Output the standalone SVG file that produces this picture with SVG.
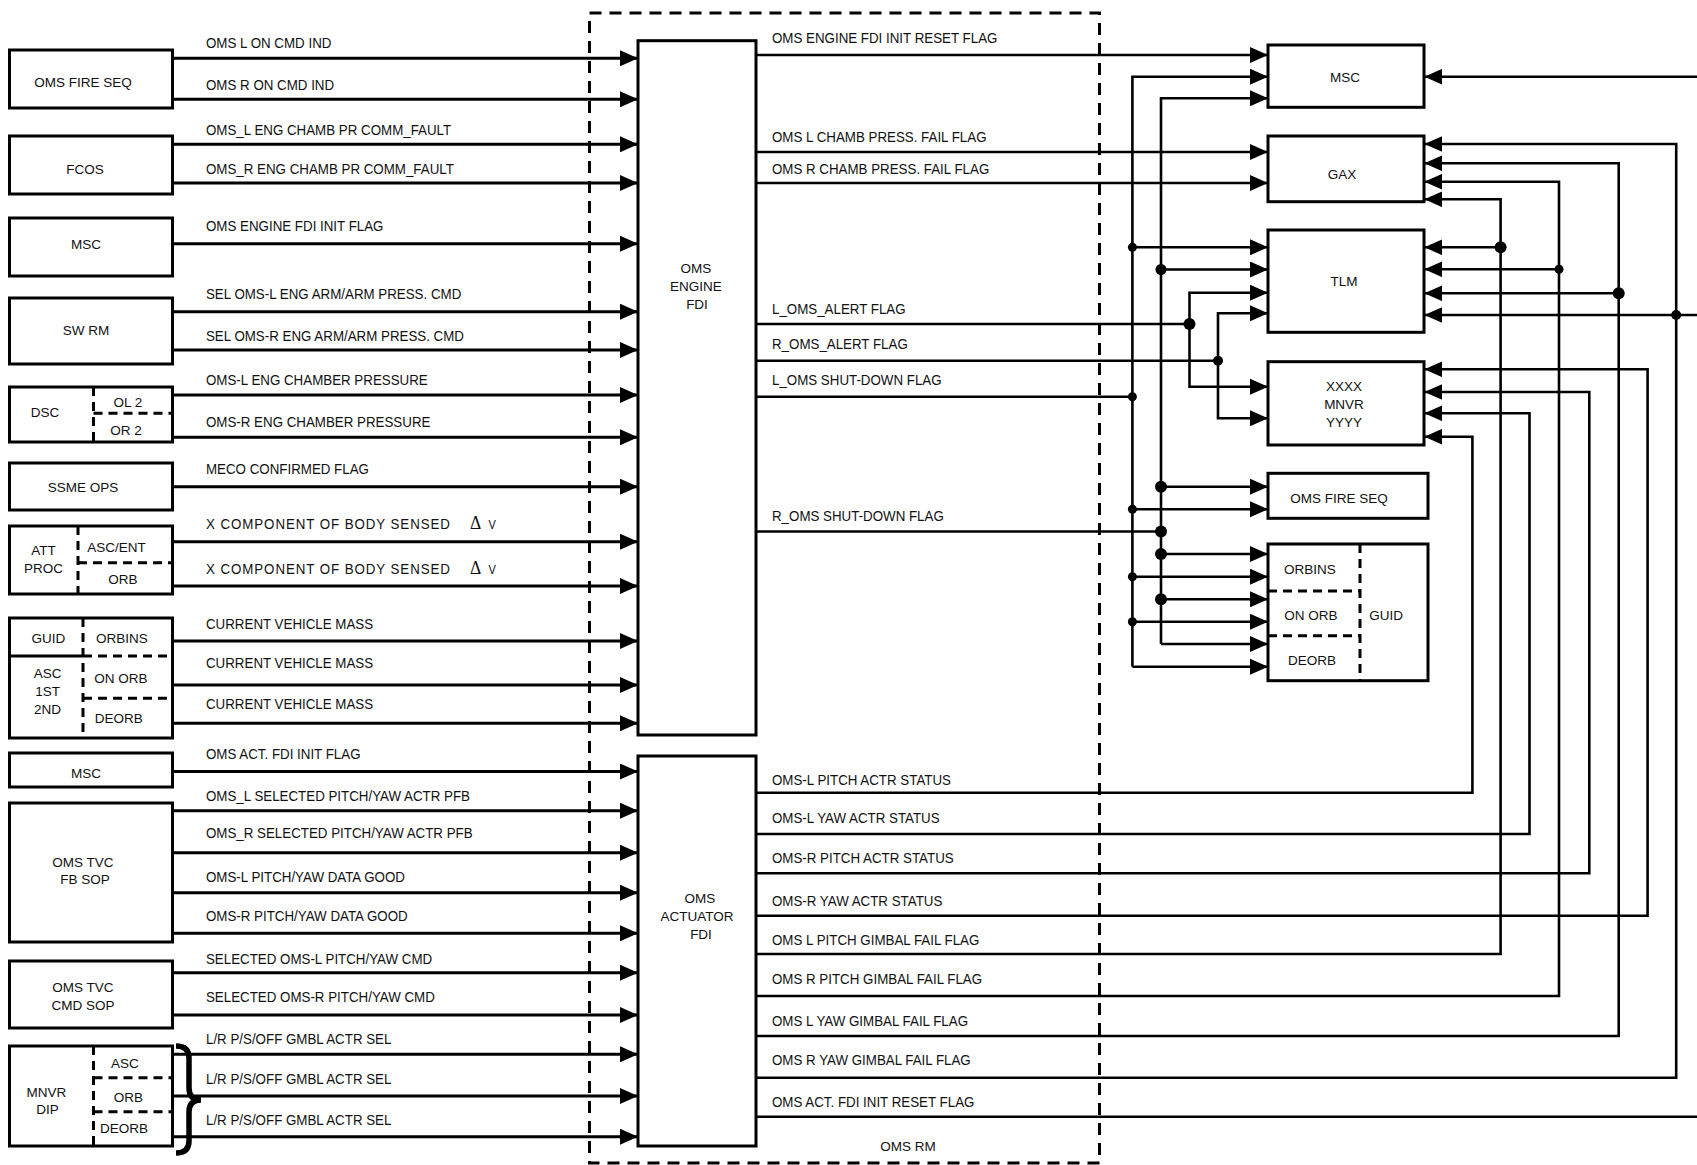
<svg xmlns="http://www.w3.org/2000/svg" width="1697" height="1165" viewBox="0 0 1697 1165">
<style>
.bx{fill:#fff;stroke:#000;stroke-width:3}
.dv{fill:none;stroke:#000;stroke-width:3;stroke-dasharray:9 6}
.sl{fill:none;stroke:#000;stroke-width:3}
.ln{fill:none;stroke:#000;stroke-width:3}
.lr{fill:none;stroke:#000;stroke-width:2.6}
.ar{marker-end:url(#a)}
.t{font-family:"Liberation Sans",Arial,sans-serif;font-size:13.5px;fill:#111}
.L .t{font-size:14.5px}
.m{text-anchor:middle}
.xc{letter-spacing:1px}
</style>
<defs>
<marker id="a" markerUnits="userSpaceOnUse" markerWidth="18" markerHeight="16" refX="18" refY="8" orient="auto" viewBox="0 0 18 16">
<path d="M0,0 L18,8 L0,16 z" fill="#000"/>
</marker>
</defs>
<rect fill="#fff" x="0" y="0" width="1697" height="1165"/>
<g id="oms-rm">
<rect x="589.5" y="13" width="510" height="1150" fill="none" stroke="#000" stroke-width="3" stroke-dasharray="12 8"/>
<text class="t m" x="908" y="1151">OMS RM</text>
</g>
<g id="connectors">
<path class="ln ar" d="M172.5,58.3H638"/>
<path class="ln ar" d="M172.5,99.3H638"/>
<path class="ln ar" d="M172.5,144.3H638"/>
<path class="ln ar" d="M172.5,183H638"/>
<path class="ln ar" d="M172.5,243.7H638"/>
<path class="ln ar" d="M172.5,311.7H638"/>
<path class="ln ar" d="M172.5,350H638"/>
<path class="ln ar" d="M172.5,395H638"/>
<path class="ln ar" d="M172.5,437.3H638"/>
<path class="ln ar" d="M172.5,486.7H638"/>
<path class="ln ar" d="M172.5,541.7H638"/>
<path class="ln ar" d="M172.5,586H638"/>
<path class="ln ar" d="M172.5,641H638"/>
<path class="ln ar" d="M172.5,685H638"/>
<path class="ln ar" d="M172.5,723.3H638"/>
<path class="ln ar" d="M172.5,771.5H638"/>
<path class="ln ar" d="M172.5,810.7H638"/>
<path class="ln ar" d="M172.5,852.7H638"/>
<path class="ln ar" d="M172.5,892.7H638"/>
<path class="ln ar" d="M172.5,933.3H638"/>
<path class="ln ar" d="M172.5,972.7H638"/>
<path class="ln ar" d="M172.5,1015H638"/>
<path class="ln ar" d="M172.5,1054.3H638"/>
<path class="ln ar" d="M172.5,1096H638"/>
<path class="ln ar" d="M172.5,1136.7H638"/>
<path d="M176,1046 Q189,1046 189,1058 V1088 Q189,1100 201,1100 Q189,1100 189,1112 V1141 Q189,1153 176,1153" fill="none" stroke="#000" stroke-width="5.5"/>
<path class="lr ar" d="M756,55H1268"/>
<path class="lr ar" d="M756,152H1268"/>
<path class="lr ar" d="M756,183H1268"/>
<path class="lr" d="M756,324H1189.5"/>
<path class="lr" d="M756,360.7H1218"/>
<path class="lr" d="M756,396.7H1132.4"/>
<path class="lr" d="M756,531.5H1161"/>
<path class="lr ar" d="M1132.4,666.7V76.7H1268"/>
<path class="lr ar" d="M1132.4,666.7H1268"/>
<path class="lr ar" d="M1132.4,247.3H1268"/>
<path class="lr ar" d="M1132.4,509.3H1268"/>
<path class="lr ar" d="M1132.4,576.7H1268"/>
<path class="lr ar" d="M1132.4,621.7H1268"/>
<path class="lr ar" d="M1161,644V98.3H1268"/>
<path class="lr ar" d="M1161,644H1268"/>
<path class="lr ar" d="M1161,269.5H1268"/>
<path class="lr ar" d="M1161,486.7H1268"/>
<path class="lr ar" d="M1161,554H1268"/>
<path class="lr ar" d="M1161,599.3H1268"/>
<path class="lr ar" d="M1189.5,324V292.7H1268"/>
<path class="lr ar" d="M1189.5,324V386.7H1268"/>
<path class="lr ar" d="M1218,360.7V313.3H1268"/>
<path class="lr ar" d="M1218,360.7V418.3H1268"/>
<path class="lr ar" d="M1697,76.7H1424.4"/>
<path class="lr ar" d="M756,1077.7H1676.2V144H1424.4"/>
<path class="lr ar" d="M1697,315H1424.4"/>
<path class="lr ar" d="M756,1036H1618.7V163.3H1424.4"/>
<path class="lr ar" d="M1618.7,293.3H1424.4"/>
<path class="lr ar" d="M756,996H1559V181.7H1424.4"/>
<path class="lr ar" d="M1559,269.3H1424.4"/>
<path class="lr ar" d="M756,954H1500.6V199.3H1424.4"/>
<path class="lr ar" d="M1500.6,247.3H1424.4"/>
<path class="lr ar" d="M756,915.7H1647.6V369.3H1424.4"/>
<path class="lr ar" d="M756,873.3H1589.3V392H1424.4"/>
<path class="lr ar" d="M756,834H1529.5V413.3H1424.4"/>
<path class="lr ar" d="M756,792.7H1472.4V436.7H1424.4"/>
<path class="lr" d="M756,1116.7H1697"/>
<g fill="#000">
<circle cx="1132.4" cy="247.3" r="4.5"/>
<circle cx="1132.4" cy="396.7" r="4.5"/>
<circle cx="1132.4" cy="509.3" r="4.5"/>
<circle cx="1132.4" cy="576.7" r="4.5"/>
<circle cx="1132.4" cy="621.7" r="4.5"/>
<circle cx="1161" cy="269.5" r="5.5"/>
<circle cx="1161" cy="486.7" r="6"/>
<circle cx="1161" cy="531.5" r="6"/>
<circle cx="1161" cy="554" r="6"/>
<circle cx="1161" cy="599.3" r="6"/>
<circle cx="1189.5" cy="324" r="6"/>
<circle cx="1218" cy="360.7" r="5"/>
<circle cx="1500.6" cy="247.3" r="6"/>
<circle cx="1559" cy="269.3" r="4.5"/>
<circle cx="1618.7" cy="293.3" r="6"/>
<circle cx="1676.2" cy="315" r="5"/>
</g>
</g>
<g id="labels" class="L" transform="scale(0.92 1)">
<text class="t" x="223.9" y="48">OMS L ON CMD IND</text>
<text class="t" x="223.9" y="90.3">OMS R ON CMD IND</text>
<text class="t" x="223.9" y="134.6">OMS_L ENG CHAMB PR COMM_FAULT</text>
<text class="t" x="223.9" y="174.3">OMS_R ENG CHAMB PR COMM_FAULT</text>
<text class="t" x="223.9" y="231.3">OMS ENGINE FDI INIT FLAG</text>
<text class="t" x="223.9" y="299.3">SEL OMS-L ENG ARM/ARM PRESS. CMD</text>
<text class="t" x="223.9" y="341">SEL OMS-R ENG ARM/ARM PRESS. CMD</text>
<text class="t" x="223.9" y="384.6">OMS-L ENG CHAMBER PRESSURE</text>
<text class="t" x="223.9" y="427">OMS-R ENG CHAMBER PRESSURE</text>
<text class="t" x="223.9" y="474.3">MECO CONFIRMED FLAG</text>
<text class="t" x="223.9" y="529.3" font-size="14px"><tspan class="xc">X COMPONENT OF BODY SENSED</tspan><tspan x="511" font-family="Liberation Serif,serif" font-size="19">Δ</tspan><tspan x="531" font-size="12">V</tspan></text>
<text class="t" x="223.9" y="574.3" font-size="14px"><tspan class="xc">X COMPONENT OF BODY SENSED</tspan><tspan x="511" font-family="Liberation Serif,serif" font-size="19">Δ</tspan><tspan x="531" font-size="12">V</tspan></text>
<text class="t" x="223.9" y="629.3">CURRENT VEHICLE MASS</text>
<text class="t" x="223.9" y="668">CURRENT VEHICLE MASS</text>
<text class="t" x="223.9" y="709.3">CURRENT VEHICLE MASS</text>
<text class="t" x="223.9" y="759.3">OMS ACT. FDI INIT FLAG</text>
<text class="t" x="223.9" y="801.3">OMS_L SELECTED PITCH/YAW ACTR PFB</text>
<text class="t" x="223.9" y="838">OMS_R SELECTED PITCH/YAW ACTR PFB</text>
<text class="t" x="223.9" y="882">OMS-L PITCH/YAW DATA GOOD</text>
<text class="t" x="223.9" y="921">OMS-R PITCH/YAW DATA GOOD</text>
<text class="t" x="223.9" y="963.6">SELECTED OMS-L PITCH/YAW CMD</text>
<text class="t" x="223.9" y="1002">SELECTED OMS-R PITCH/YAW CMD</text>
<text class="t" x="223.9" y="1043.6">L/R P/S/OFF GMBL ACTR SEL</text>
<text class="t" x="223.9" y="1084.3">L/R P/S/OFF GMBL ACTR SEL</text>
<text class="t" x="223.9" y="1125.3">L/R P/S/OFF GMBL ACTR SEL</text>
<text class="t" x="839.1" y="43">OMS ENGINE FDI INIT RESET FLAG</text>
<text class="t" x="839.1" y="142">OMS L CHAMB PRESS. FAIL FLAG</text>
<text class="t" x="839.1" y="174.3">OMS R CHAMB PRESS. FAIL FLAG</text>
<text class="t" x="839.1" y="314.3">L_OMS_ALERT FLAG</text>
<text class="t" x="839.1" y="349.3">R_OMS_ALERT FLAG</text>
<text class="t" x="839.1" y="385.3">L_OMS SHUT-DOWN FLAG</text>
<text class="t" x="839.1" y="521.3">R_OMS SHUT-DOWN FLAG</text>
<text class="t" x="839.1" y="785.3">OMS-L PITCH ACTR STATUS</text>
<text class="t" x="839.1" y="822.6">OMS-L YAW ACTR STATUS</text>
<text class="t" x="839.1" y="863">OMS-R PITCH ACTR STATUS</text>
<text class="t" x="839.1" y="906">OMS-R YAW ACTR STATUS</text>
<text class="t" x="839.1" y="945.3">OMS L PITCH GIMBAL FAIL FLAG</text>
<text class="t" x="839.1" y="984.3">OMS R PITCH GIMBAL FAIL FLAG</text>
<text class="t" x="839.1" y="1026">OMS L YAW GIMBAL FAIL FLAG</text>
<text class="t" x="839.1" y="1064.6">OMS R YAW GIMBAL FAIL FLAG</text>
<text class="t" x="839.1" y="1107">OMS ACT. FDI INIT RESET FLAG</text>
</g>
<g id="src-oms-fire-seq"><rect class="bx" x="9.5" y="50" width="163" height="58"/><text class="t m" x="83" y="86.5">OMS FIRE SEQ</text></g>
<g id="src-fcos"><rect class="bx" x="9.5" y="136" width="163" height="58"/><text class="t m" x="85" y="174">FCOS</text></g>
<g id="src-msc-1"><rect class="bx" x="9.5" y="218" width="163" height="58"/><text class="t m" x="86" y="249">MSC</text></g>
<g id="src-sw-rm"><rect class="bx" x="9.5" y="298" width="163" height="66"/><text class="t m" x="86" y="335">SW RM</text></g>
<g id="src-dsc"><rect class="bx" x="9.5" y="387" width="163" height="55"/>
<path class="dv" d="M93.5,387V442M93.5,413.3H172"/>
<text class="t m" x="45" y="416.5">DSC</text><text class="t m" x="128" y="406.5">OL 2</text><text class="t m" x="126" y="435">OR 2</text></g>
<g id="src-ssme-ops"><rect class="bx" x="9.5" y="463" width="163" height="47"/><text class="t m" x="83" y="491.5">SSME OPS</text></g>
<g id="src-att-proc"><rect class="bx" x="9.5" y="526" width="163" height="68"/>
<path class="dv" d="M78,526V594M78,562.7H172"/>
<text class="t m" x="43.4" y="555">ATT</text><text class="t m" x="43.4" y="573">PROC</text>
<text class="t m" x="116.6" y="551.5">ASC/ENT</text><text class="t m" x="123" y="584">ORB</text></g>
<g id="src-guid-asc"><rect class="bx" x="9.5" y="618" width="163" height="120"/>
<path class="sl" d="M9.5,656H83"/>
<path class="dv" d="M83,618V738M83,656H172M83,698.3H172"/>
<text class="t m" x="48.4" y="642.5">GUID</text><text class="t m" x="122" y="642.5">ORBINS</text>
<text class="t m" x="47.6" y="677.5">ASC</text><text class="t m" x="47.6" y="696">1ST</text><text class="t m" x="47.6" y="714">2ND</text>
<text class="t m" x="121" y="682.5">ON ORB</text><text class="t m" x="118.7" y="723">DEORB</text></g>
<g id="src-msc-2"><rect class="bx" x="9.5" y="753" width="163" height="34"/><text class="t m" x="86" y="778">MSC</text></g>
<g id="src-oms-tvc-fb-sop"><rect class="bx" x="9.5" y="803" width="163" height="139"/><text class="t m" x="83" y="866.5">OMS TVC</text><text class="t m" x="85" y="884">FB SOP</text></g>
<g id="src-oms-tvc-cmd-sop"><rect class="bx" x="9.5" y="961" width="163" height="67"/><text class="t m" x="83" y="991.5">OMS TVC</text><text class="t m" x="83" y="1010">CMD SOP</text></g>
<g id="src-mnvr-dip"><rect class="bx" x="9.5" y="1046" width="163" height="100"/>
<path class="dv" d="M93.5,1046V1146M93.5,1077.7H172M93.5,1111.7H172"/>
<text class="t m" x="46.3" y="1096.5">MNVR</text><text class="t m" x="47.6" y="1114">DIP</text>
<text class="t m" x="125" y="1068">ASC</text><text class="t m" x="128.4" y="1102">ORB</text><text class="t m" x="124" y="1132.5">DEORB</text></g>
<g id="oms-engine-fdi"><rect class="bx" x="638" y="40.7" width="118" height="694.3"/>
<text class="t m" x="696" y="273">OMS</text><text class="t m" x="696" y="291">ENGINE</text><text class="t m" x="697" y="309">FDI</text></g>
<g id="oms-actuator-fdi"><rect class="bx" x="638" y="756" width="118" height="390"/>
<text class="t m" x="700" y="903">OMS</text><text class="t m" x="697" y="921">ACTUATOR</text><text class="t m" x="701" y="939">FDI</text></g>
<g id="dst-msc"><rect class="bx" x="1268" y="45" width="156" height="62.3"/><text class="t m" x="1345" y="82">MSC</text></g>
<g id="dst-gax"><rect class="bx" x="1268" y="136" width="156" height="65.7"/><text class="t m" x="1342" y="179">GAX</text></g>
<g id="dst-tlm"><rect class="bx" x="1268" y="230" width="156" height="102.3"/><text class="t m" x="1344" y="286">TLM</text></g>
<g id="dst-mnvr"><rect class="bx" x="1268" y="361.7" width="156" height="83.3"/>
<text class="t m" x="1344" y="391">XXXX</text><text class="t m" x="1344" y="408.5">MNVR</text><text class="t m" x="1344" y="427">YYYY</text></g>
<g id="dst-oms-fire-seq"><rect class="bx" x="1268" y="473.3" width="160" height="45"/><text class="t m" x="1339" y="502.5">OMS FIRE SEQ</text></g>
<g id="dst-guid"><rect class="bx" x="1268" y="544" width="160" height="136.7"/>
<path class="dv" d="M1360,544V680.7M1268,591H1360M1268,635.7H1360"/>
<text class="t m" x="1310" y="574">ORBINS</text><text class="t m" x="1311" y="620">ON ORB</text><text class="t m" x="1312" y="665">DEORB</text><text class="t m" x="1386" y="620">GUID</text></g>
</svg>
